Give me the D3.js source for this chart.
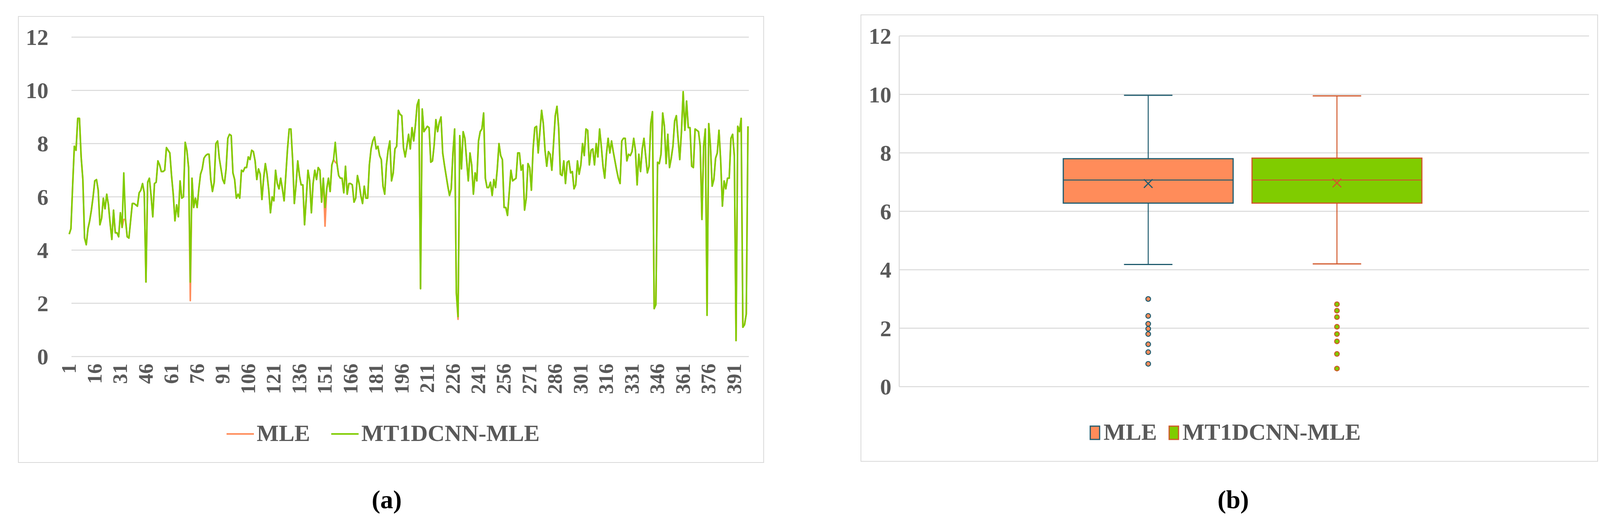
<!DOCTYPE html>
<html>
<head>
<meta charset="utf-8">
<script src="https://cdn.jsdelivr.net/npm/d3@7"></script>
<style>
  body { margin: 0; background: #fff; }
  text { font-family: "Liberation Serif", "DejaVu Serif", serif; fill: #595959; font-weight: bold; }
</style>
</head>
<body>
<svg id="chart" width="4124" height="1348"></svg>
<script>
// ---- data ----
const seriesNames = ["MLE", "MT1DCNN-MLE"]

const cnnValues = [
  4.6,4.8,6.4,7.9,7.75,8.95,8.95,7.5,6.65,4.45,4.2,4.8,5.1,5.5,6.0,6.6,6.65,6.25,4.95,5.2,
  5.95,5.55,6.1,5.7,5.0,4.4,5.5,4.65,4.65,4.5,5.4,4.85,6.9,5.15,4.5,4.45,5.1,5.75,5.75,5.7,
  5.65,6.15,6.25,6.5,6.15,2.8,6.55,6.7,6.05,5.25,6.5,6.55,7.35,7.2,6.95,6.95,7.0,7.85,7.75,7.65,
  6.8,6.1,5.1,5.7,5.25,6.6,5.95,6.0,8.05,7.75,7.1,2.8,6.7,5.6,5.95,5.6,6.3,6.85,7.05,7.45,
  7.55,7.6,7.6,6.65,6.2,6.55,8.0,8.1,7.45,7.05,6.65,6.5,7.05,8.2,8.35,8.3,6.9,6.65,5.95,6.1,
  5.95,7.0,6.95,7.1,7.1,7.5,7.4,7.75,7.7,7.35,6.65,7.05,6.85,5.9,6.7,7.25,6.85,6.25,5.4,6.0,
  5.85,7.0,6.5,6.3,6.7,6.3,5.85,6.8,7.8,8.55,8.55,7.4,5.75,6.45,7.35,6.8,6.45,6.45,4.95,5.95,
  7.0,6.6,5.4,6.5,7.0,6.65,7.1,7.0,5.8,6.7,5.6,6.3,6.7,6.2,7.2,7.4,8.05,7.25,6.8,6.7,
  6.7,6.15,7.15,6.1,6.5,6.5,6.45,5.8,5.95,6.8,6.5,6.05,5.75,6.4,5.95,5.95,7.2,7.8,8.1,8.25,
  7.8,7.9,7.55,7.4,6.4,6.1,7.2,7.75,8.1,6.6,6.9,7.8,7.9,9.25,9.1,9.05,7.85,7.5,7.9,8.35,
  7.8,8.6,8.1,8.7,9.45,9.65,2.55,9.3,8.45,8.55,8.65,8.6,7.3,7.35,7.95,8.9,8.45,8.8,9.0,7.65,
  7.2,6.8,6.4,6.05,6.3,7.65,8.55,2.4,1.5,8.3,7.05,8.45,8.2,7.4,6.6,7.65,7.2,6.1,6.9,6.6,
  8.1,8.45,8.55,9.15,6.7,6.35,6.35,6.55,6.05,6.65,6.35,7.05,8.0,7.55,7.4,5.6,5.6,5.3,6.15,7.0,
  6.6,6.65,6.7,7.65,7.65,7.0,7.2,5.5,5.95,7.25,7.1,6.25,7.8,8.6,8.65,7.65,8.45,9.25,8.75,7.75,
  7.15,7.7,7.6,7.0,8.0,9.05,9.4,8.6,6.85,6.8,7.35,6.5,7.3,7.35,6.9,6.95,6.3,6.45,7.35,6.85,
  7.2,8.0,7.55,8.55,8.5,7.2,7.75,7.8,7.2,8.0,7.5,8.55,7.9,7.15,6.7,7.6,8.2,7.65,8.1,7.7,
  7.35,7.0,6.7,6.5,8.1,8.2,8.2,7.35,7.6,7.55,7.7,8.2,7.75,6.45,7.6,6.95,7.8,8.2,7.55,6.9,
  7.15,8.75,9.2,1.8,1.95,7.3,7.25,7.6,9.15,8.65,7.25,8.35,7.1,7.45,7.9,8.85,9.05,8.2,7.4,8.45,
  9.95,8.5,9.6,8.6,8.6,7.15,7.1,8.55,8.5,8.45,7.9,5.15,7.9,8.55,1.55,8.75,7.9,6.4,6.65,7.45,
  7.65,8.5,7.35,5.65,6.6,6.3,6.7,6.7,8.2,8.35,7.55,0.6,8.65,8.45,8.95,1.1,1.2,1.6,8.65
]
// MLE matches the CNN series except where the orange line shows through
const mleDiffIndex = [33, 72, 151, 157, 229]
const mleDiffValue = [5.15, 2.1, 4.9, 7.3, 1.4]

const yTicks = [0, 2, 4, 6, 8, 10, 12]
const xTickLabels = d3.range(1, cnnValues.length + 1, 15)

// box plot summary
const boxStats = [
  {name: "MLE", min: 4.18, q1: 6.28, median: 7.07, q3: 7.8, max: 9.97, mean: 6.95},
  {name: "MT1DCNN-MLE", min: 4.2, q1: 6.28, median: 7.07, q3: 7.82, max: 9.95, mean: 6.97}
]
const mleOutliers = [3.0, 2.42, 2.15, 1.98, 1.8, 1.45, 1.18, 0.78]
const cnnOutliers = [2.82, 2.6, 2.38, 2.05, 1.8, 1.55, 1.12, 0.62]

const fills = ["#FF8C5A", "#80CC00"]
const edges = ["#1F5B6E", "#D1572A"]
const gridColor = "#D9D9D9"

const mleValues = cnnValues.slice()
mleDiffIndex.forEach((i, k) => { mleValues[i - 1] = mleDiffValue[k] })

const svg = d3.select("#chart")

// ---------------- panel (a): line chart ----------------
const a = {left: 175, right: 1917, top: 95, bottom: 912}
svg.append("rect").attr("x", 47).attr("y", 42).attr("width", 1908).attr("height", 1141)
  .attr("fill", "none").attr("stroke", gridColor).attr("stroke-width", 2)

const xa = d3.scaleLinear().domain([0.5, cnnValues.length + 0.5]).range([a.left, a.right])
const ya = d3.scaleLinear().domain([0, 12]).range([a.bottom, a.top])

const ga = svg.append("g")
ga.selectAll("line.grid").data(yTicks).join("line")
  .attr("x1", a.left + 8).attr("x2", a.right)
  .attr("y1", d => ya(d)).attr("y2", d => ya(d))
  .attr("stroke", gridColor).attr("stroke-width", 2.5)
ga.selectAll("text.ytick").data(yTicks).join("text")
  .attr("x", 124).attr("y", d => ya(d) + 20)
  .attr("text-anchor", "end").attr("font-size", 58)
  .text(d => d)
ga.selectAll("text.xtick").data(xTickLabels).join("text")
  .attr("transform", d => `translate(${xa(d) + 17},930) rotate(-90)`)
  .attr("text-anchor", "end").attr("font-size", 52)
  .text(d => d)

const line = d3.line().x((d, i) => xa(i + 1)).y(d => ya(d))
ga.append("path").datum(mleValues).attr("d", line)
  .attr("fill", "none").attr("stroke", fills[0]).attr("stroke-width", 4).attr("stroke-linejoin", "round")
ga.append("path").datum(cnnValues).attr("d", line)
  .attr("fill", "none").attr("stroke", fills[1]).attr("stroke-width", 4).attr("stroke-linejoin", "round")

// legend (a)
const legA = [{x: 580, name: seriesNames[0], c: fills[0]}, {x: 848, name: seriesNames[1], c: fills[1]}]
legA.forEach(l => {
  ga.append("line").attr("x1", l.x).attr("x2", l.x + 70).attr("y1", 1110).attr("y2", 1110)
    .attr("stroke", l.c).attr("stroke-width", 4)
  ga.append("text").attr("x", l.x + 77).attr("y", 1128).attr("font-size", 60).text(l.name)
})
svg.append("text").attr("x", 990).attr("y", 1300).attr("text-anchor", "middle").attr("font-size", 66)
  .attr("font-weight", "normal").style("fill", "#000")
  .html('(<tspan font-weight="bold" style="fill:#000">a</tspan>)')

// ---------------- panel (b): box plot ----------------
const b = {left: 2302, right: 4068, top: 92, bottom: 989}
svg.append("rect").attr("x", 2204).attr("y", 38).attr("width", 1886).attr("height", 1142)
  .attr("fill", "none").attr("stroke", gridColor).attr("stroke-width", 2)

const xb = d3.scaleBand().domain(boxStats.map(d => d.name)).range([2722, 3640]).paddingInner(0.1)
const yb = d3.scaleLinear().domain([0, 12]).range([b.bottom, b.top])

const gb = svg.append("g")
gb.selectAll("line.grid").data(yTicks).join("line")
  .attr("x1", b.left).attr("x2", b.right)
  .attr("y1", d => yb(d)).attr("y2", d => yb(d))
  .attr("stroke", gridColor).attr("stroke-width", 2.5)
gb.append("line").attr("x1", b.left).attr("x2", b.left).attr("y1", b.top).attr("y2", b.bottom)
  .attr("stroke", gridColor).attr("stroke-width", 2.5)
gb.selectAll("text.ytick").data(yTicks).join("text")
  .attr("x", 2282).attr("y", d => yb(d) + 20)
  .attr("text-anchor", "end").attr("font-size", 58)
  .text(d => d)

const outliers = [mleOutliers, cnnOutliers]
boxStats.forEach((s, i) => {
  const x0 = xb(s.name), w = xb.bandwidth(), cx = x0 + w / 2
  const g = gb.append("g")
  g.append("line").attr("x1", cx).attr("x2", cx).attr("y1", yb(s.max)).attr("y2", yb(s.q3))
    .attr("stroke", edges[i]).attr("stroke-width", 2.5)
  g.append("line").attr("x1", cx).attr("x2", cx).attr("y1", yb(s.q1)).attr("y2", yb(s.min))
    .attr("stroke", edges[i]).attr("stroke-width", 2.5)
  ;[s.max, s.min].forEach(v => g.append("line")
    .attr("x1", cx - 62).attr("x2", cx + 62).attr("y1", yb(v)).attr("y2", yb(v))
    .attr("stroke", edges[i]).attr("stroke-width", 3))
  g.append("rect").attr("x", x0).attr("y", yb(s.q3)).attr("width", w).attr("height", yb(s.q1) - yb(s.q3))
    .attr("fill", fills[i]).attr("stroke", edges[i]).attr("stroke-width", 3)
  g.append("line").attr("x1", x0).attr("x2", x0 + w).attr("y1", yb(s.median)).attr("y2", yb(s.median))
    .attr("stroke", edges[i]).attr("stroke-width", 2.5)
  const my = yb(s.mean), r = 11
  g.append("path").attr("d", `M${cx - r},${my - r}L${cx + r},${my + r}M${cx - r},${my + r}L${cx + r},${my - r}`)
    .attr("stroke", edges[i]).attr("stroke-width", 3)
  g.selectAll("circle").data(outliers[i]).join("circle")
    .attr("cx", cx).attr("cy", d => yb(d)).attr("r", 6)
    .attr("fill", fills[i]).attr("stroke", edges[i]).attr("stroke-width", 2.5)
})

// legend (b)
const legB = [{x: 2791, name: seriesNames[0]}, {x: 2993, name: seriesNames[1]}]
legB.forEach((l, i) => {
  gb.append("rect").attr("x", l.x).attr("y", 1090).attr("width", 24).attr("height", 34)
    .attr("fill", fills[i]).attr("stroke", edges[i]).attr("stroke-width", 3)
  gb.append("text").attr("x", l.x + 34).attr("y", 1125).attr("font-size", 60).text(l.name)
})
svg.append("text").attr("x", 3157).attr("y", 1300).attr("text-anchor", "middle").attr("font-size", 66)
  .attr("font-weight", "normal").style("fill", "#000")
  .html('(<tspan font-weight="bold" style="fill:#000">b</tspan>)')
</script>
</body>
</html>
